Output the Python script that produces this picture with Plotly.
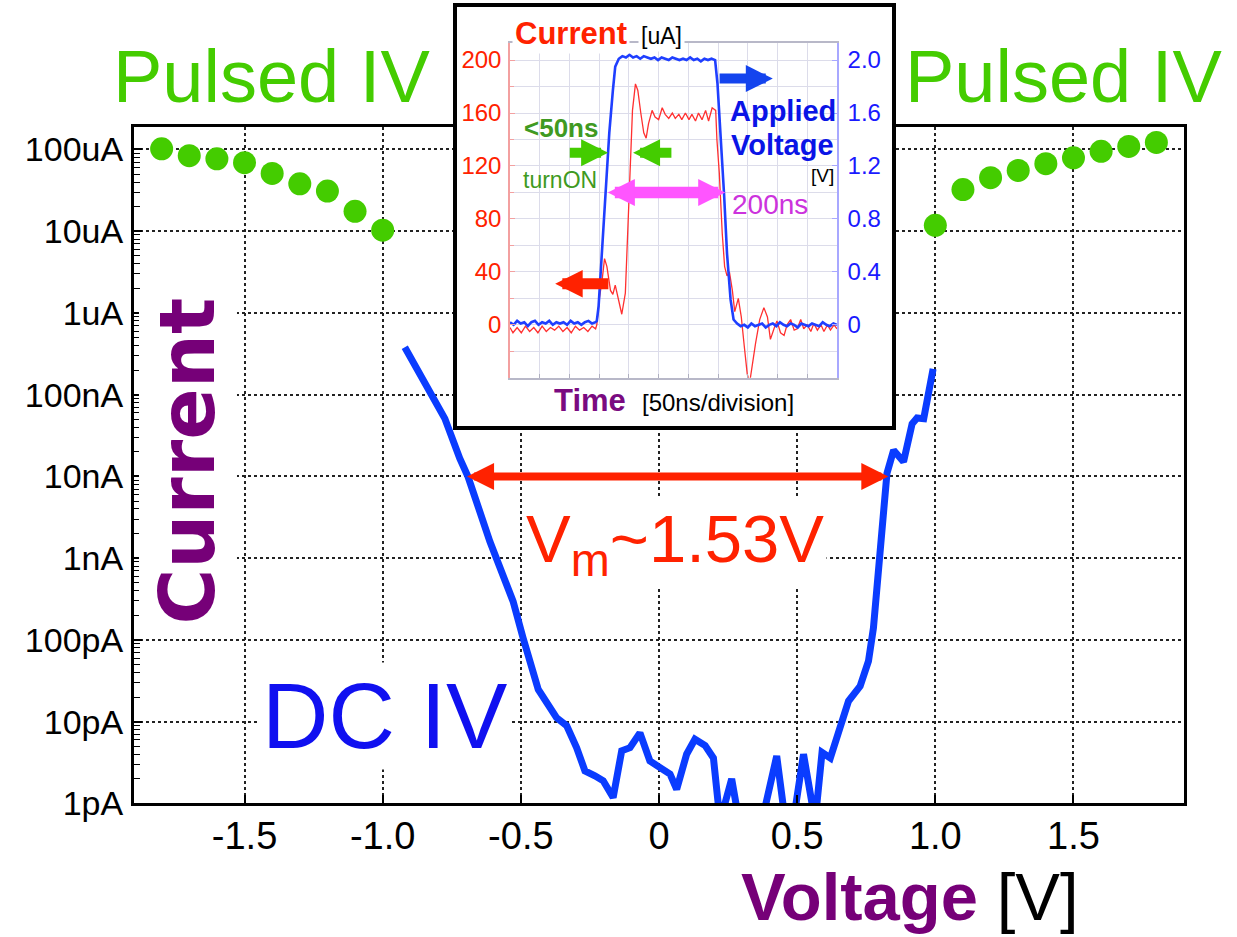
import plotly.graph_objects as go

W, H = 1237, 937          # reference frame used for placing elements
FIG_H = 953               # rendered figure height
FONT = "Liberation Sans, Arial, sans-serif"
WIDE = "DejaVu Sans, Verdana, sans-serif"


def px(x):
    return x / W


def py(y):
    return 1 - y / H


# ---------------- main chart data ----------------
# pulsed IV measurements (green dots)
pulse_neg_v = [-1.8, -1.7, -1.6, -1.5, -1.4, -1.3, -1.2, -1.1, -1.0]
pulse_neg_i = [1.02e-4, 8.4e-5, 7.7e-5, 6.9e-5, 5.1e-5, 3.8e-5, 3.1e-5, 1.75e-5, 1.03e-5]
pulse_pos_v = [1.0, 1.1, 1.2, 1.3, 1.4, 1.5, 1.6, 1.7, 1.8]
pulse_pos_i = [1.18e-5, 3.23e-5, 4.52e-5, 5.55e-5, 6.7e-5, 7.9e-5, 9.5e-5, 1.09e-4, 1.22e-4]

# DC IV sweep (blue line)
dc_v = [-0.920, -0.842, -0.775, -0.721, -0.691, -0.612, -0.528, -0.492, -0.437, -0.371,
        -0.334, -0.298, -0.268, -0.232, -0.202, -0.166, -0.135, -0.105, -0.069, -0.033,
        0.040, 0.064, 0.100, 0.130, 0.167, 0.197, 0.221, 0.263, 0.290, 0.340,
        0.384, 0.426, 0.457, 0.486, 0.523, 0.565, 0.590, 0.620, 0.656, 0.686,
        0.728, 0.758, 0.776, 0.795, 0.810, 0.825, 0.849, 0.885, 0.916, 0.934,
        0.958, 0.976, 0.992]
dc_i = [3.8e-7, 1.30e-7, 5.1e-8, 1.66e-8, 9.9e-9, 1.60e-9, 2.96e-10, 1.06e-10, 2.48e-11, 1.12e-11,
        8.9e-12, 4.8e-12, 2.5e-12, 2.18e-12, 1.89e-12, 1.18e-12, 4.4e-12, 4.8e-12, 7.3e-12, 3.3e-12,
        2.28e-12, 1.49e-12, 4.0e-12, 6.1e-12, 5.1e-12, 3.6e-12, 6e-13, 2.0e-12, 6e-13, 4e-13,
        9e-13, 3.8e-12, 6e-13, 6e-13, 4.0e-12, 6e-13, 4.2e-12, 3.6e-12, 9.3e-12, 1.79e-11,
        2.72e-11, 5.5e-11, 1.40e-10, 7.6e-10, 4.1e-9, 1.09e-8, 2.09e-8, 1.51e-8, 4.4e-8, 5.2e-8,
        5.1e-8, 9.8e-8, 2.07e-7]

x_tick_vals = [-1.5, -1.0, -0.5, 0, 0.5, 1.0, 1.5]
x_tick_text = ["-1.5", "-1.0", "-0.5", "0", "0.5", "1.0", "1.5"]
y_tick_vals = [1e-12, 1e-11, 1e-10, 1e-9, 1e-8, 1e-7, 1e-6, 1e-5, 1e-4]
y_tick_text = ["1pA", "10pA", "100pA", "1nA", "10nA", "100nA", "1uA", "10uA", "100uA"]

# memory window marked on the DC curve
VM_LEFT = -0.70
VM_SPAN = 1.53

# ---------------- inset data (pulse waveform) ----------------
cur_t = [0, 5, 12, 19, 26, 33, 40, 47, 54, 61, 68, 75, 82, 89, 96, 103, 110, 117, 124, 131, 138, 144,
         146, 150, 155, 159, 163, 169, 173, 177, 183, 188,
         194, 198, 202, 206, 211, 215, 220, 225, 229, 233,
         239, 244, 250, 256, 261, 267, 273, 278, 284, 289,
         295, 301, 306, 312, 317, 323, 329, 334, 340, 346,
         348, 352, 357, 361, 365, 369, 374, 378, 384, 389,
         394, 399, 403, 407, 413, 420, 427, 433, 438, 444,
         449, 455, 461, 466, 472, 478, 483, 489, 494, 500,
         506, 511, 517, 523, 528, 534, 539, 545, 550]
cur_ua = [-2, -6, -2, -6, -1, -5, -2, -6, -1, -5, -2, -4, -1, -5, -2, -6, -1, -4, -2, -5, -1, -3,
          0, 19, 34, 50, 44, 26, 23, 30, 18, 8,
          24, 69, 125, 162, 182, 177, 160, 145, 141, 152,
          162, 157, 155, 164, 159, 156, 160, 156, 159, 155,
          160, 155, 159, 154, 160, 155, 162, 154, 164, 162,
          140, 115, 69, 44, 37, 40, 26, 10, 20, 6,
          -16, -37, -44, -31, -14, 4, 13, 6, -11, -3,
          3, -6, -8, 0, 4, -4, -3, 4, -3, 0,
          -5, 1, -4, 0, -5, 0, -4, 0, -3]

volt_t = [0, 6, 12, 18, 24, 30, 36, 42, 48, 54, 60, 66, 72, 78, 84, 90, 96, 102, 108, 114,
          120, 126, 132, 138, 144,
          146, 149, 153, 158, 163, 167, 173, 177,
          183, 189, 195, 201, 207, 213, 219, 225, 231, 237, 243, 249, 255, 261, 267, 273,
          279, 285, 291, 297, 303, 309, 315, 321, 327, 333, 339, 345,
          349, 354, 360, 365, 371, 376,
          382, 388, 394, 400, 406, 412, 418, 424, 430, 436, 442, 448, 454, 460, 466, 472,
          478, 484, 490, 496, 502, 508, 514, 520, 526, 532, 538, 544, 550]
volt_v = [0.02, 0.00, 0.03, 0.01, 0.02, -0.01, 0.02, 0.03, 0.00, 0.02, 0.01, 0.03, 0.00, 0.02,
          0.01, 0.02, 0.00, 0.03, 0.01, 0.02, 0.00, 0.02, 0.03, 0.01, 0.02,
          0.03, 0.14, 0.44, 0.82, 1.14, 1.45, 1.77, 1.95,
          2.01, 2.03, 2.02, 2.04, 2.02, 2.03, 2.01, 2.03, 2.02, 2.01, 2.02, 2.00, 2.02, 2.01,
          2.00, 2.02, 2.01, 2.00, 2.01, 2.00, 2.02, 2.00, 2.01, 1.99, 2.01, 2.00, 2.01, 2.00,
          1.82, 1.45, 0.99, 0.54, 0.19, 0.04,
          0.01, -0.01, 0.00, -0.02, 0.01, -0.01, 0.00, 0.01, -0.02, 0.00, 0.01, -0.01, 0.02,
          0.00, -0.01, 0.01, 0.00, -0.02, 0.01, 0.00, -0.01, 0.01, 0.00, -0.01, 0.02, 0.00,
          -0.01, 0.01, 0.00]

inset_t_ticks = [0, 50, 100, 150, 200, 250, 300, 350, 400, 450, 500, 550]
inset_i_ticks = [0, 40, 80, 120, 160, 200]
inset_i_text = ["0", "40", "80", "120", "160", "200"]
inset_v_ticks = [0, 0.4, 0.8, 1.2, 1.6, 2.0]
inset_v_text = ["0", "0.4", "0.8", "1.2", "1.6", "2.0"]

GREEN = "#44cc00"
RED = "#ff2200"
PURPLE = "#760078"

fig = go.Figure()

# main plot
fig.add_trace(go.Scatter(x=dc_v, y=dc_i, mode="lines", line=dict(color="#0a3cff", width=7),
                         xaxis="x", yaxis="y", hoverinfo="skip"))
fig.add_trace(go.Scatter(x=pulse_neg_v, y=pulse_neg_i, mode="markers",
                         marker=dict(size=23, color=GREEN, line=dict(width=0)),
                         xaxis="x", yaxis="y"))
fig.add_trace(go.Scatter(x=pulse_pos_v, y=pulse_pos_i, mode="markers",
                         marker=dict(size=23, color=GREEN, line=dict(width=0)),
                         xaxis="x", yaxis="y"))

# white framed panel holding the inset
fig.add_trace(go.Scatter(x=[None], y=[None], xaxis="x2", yaxis="y2", hoverinfo="skip"))

# inset waveforms
fig.add_trace(go.Scatter(x=cur_t, y=cur_ua, mode="lines", line=dict(color="#ff3030", width=1.3),
                         xaxis="x3", yaxis="y3", hoverinfo="skip"))
fig.add_trace(go.Scatter(x=volt_t, y=volt_v, mode="lines", line=dict(color="#1f3fff", width=2.6),
                         xaxis="x3", yaxis="y4", hoverinfo="skip"))

grid_main = dict(showgrid=True, gridcolor="#222222", griddash="dot", gridwidth=1.5, zeroline=False)
inset_grid = "#dcdcea"

fig.update_layout(
    width=W, height=FIG_H, autosize=False,
    margin=dict(l=0, r=0, t=0, b=0),
    paper_bgcolor="white", plot_bgcolor="white",
    showlegend=False,
    font=dict(family=FONT, color="black"),
    xaxis=dict(domain=[px(134), px(1184)], range=[-1.9, 1.9], anchor="y",
               tickmode="array", tickvals=x_tick_vals, ticktext=x_tick_text,
               tickfont=dict(size=38, family=FONT, color="black"),
               ticks="inside", ticklen=8, tickwidth=2, tickcolor="black",
               showline=True, linewidth=3, linecolor="black", mirror=True,
               ticklabelstandoff=-3, **grid_main),
    yaxis=dict(type="log", domain=[py(806), py(127)], range=[-12, -3.72], anchor="x",
               tickmode="array", tickvals=y_tick_vals, ticktext=y_tick_text,
               tickfont=dict(size=34, family=FONT, color="black"),
               ticks="inside", ticklen=8, tickwidth=2, tickcolor="black",
               minor=dict(ticks="inside", ticklen=6, tickwidth=1.2, tickcolor="black",
                          dtick="D1", showgrid=False),
               showline=True, linewidth=3, linecolor="black", mirror=True,
               ticklabelstandoff=1, **grid_main),
    xaxis2=dict(domain=[px(457), px(892)], range=[0, 1], anchor="y2",
                showline=True, linewidth=3.5, linecolor="black", mirror=True,
                showgrid=False, zeroline=False, showticklabels=False, ticks=""),
    yaxis2=dict(domain=[py(427), py(7)], range=[0, 1], anchor="x2",
                showline=True, linewidth=3.5, linecolor="black", mirror=True,
                showgrid=False, zeroline=False, showticklabels=False, ticks=""),
    xaxis3=dict(domain=[px(510), px(837)], range=[0, 550], anchor="y3",
                tickmode="array", tickvals=inset_t_ticks, showticklabels=False,
                ticks="inside", ticklen=4, tickcolor="#b0b0c0",
                showgrid=True, gridcolor=inset_grid, gridwidth=1, zeroline=False,
                showline=True, linecolor="#b8b8c8", linewidth=1.5, mirror=True),
    yaxis3=dict(domain=[py(379), py(43)], range=[-40, 213], anchor="x3",
                tickmode="array", tickvals=inset_i_ticks, ticktext=inset_i_text,
                tickfont=dict(size=24, family=FONT, color=RED),
                ticks="inside", ticklen=5, tickcolor="#f3a0a0",
                showgrid=True, gridcolor=inset_grid, gridwidth=1, zeroline=False,
                minor=dict(dtick=20, tick0=0, showgrid=True, gridcolor=inset_grid,
                           ticks="inside", ticklen=4, tickcolor="#f3a0a0"),
                showline=True, linecolor="#f3a0a0", linewidth=1.5, ticklabelstandoff=2),
    yaxis4=dict(overlaying="y3", side="right", anchor="x3", range=[-0.4, 2.13],
                tickmode="array", tickvals=inset_v_ticks, ticktext=inset_v_text,
                tickfont=dict(size=24, family=FONT, color="#1a1aff"),
                ticks="inside", ticklen=5, tickcolor="#a8a8ff",
                showgrid=False, zeroline=False,
                showline=True, linecolor="#a8a8ff", linewidth=1.5, ticklabelstandoff=4),
)


def label(text, x, y, size, color, family=FONT, **kw):
    return dict(xref="paper", yref="paper", x=px(x), y=py(y), text=text, showarrow=False,
                font=dict(size=size, color=color, family=family),
                xanchor="center", yanchor="middle", **kw)


def arrow(x_tip, y_tip, x_tail, y_tail, xref, yref, color, width, size, both=False):
    a = dict(x=x_tip, y=y_tip, ax=x_tail, ay=y_tail, xref=xref, yref=yref,
             axref=xref, ayref=yref, text="", showarrow=True,
             arrowhead=2, arrowsize=size, arrowwidth=width, arrowcolor=color,
             standoff=0, startstandoff=0)
    if both:
        a.update(arrowside="end+start", startarrowhead=2, startarrowsize=size)
    return a


annotations = [
    # main chart labels
    label("Pulsed IV", 271, 77, 74, GREEN),
    label("Pulsed IV", 1063, 77, 74, GREEN),
    label("<b>Current</b>", 188, 463, 76, PURPLE, family=WIDE, textangle=-90,
          bgcolor="white", borderpad=4),
    label("DC IV", 384, 718, 92, "#1010f0", bgcolor="white", borderpad=2),
    label("V<sub>m</sub>~1.53V", 675, 545, 67, RED, bgcolor="white", borderpad=2),
    label("<b>Voltage</b> <span style='color:black'>[V]</span>", 910, 899, 67, PURPLE,
          borderpad=0),
    arrow(VM_LEFT + VM_SPAN, -8, VM_LEFT, -8, "x", "y", RED, 8, 0.675, both=True),

    # inset labels
    label("<b>Current</b>", 571, 34, 31, RED, bgcolor="white", borderpad=2),
    label("[uA]", 661, 36, 23, "black", bgcolor="white", borderpad=2),
    label("<b>&lt;50ns</b>", 561, 128, 26, "#3f9a22"),
    label("turnON", 560, 181, 23, "#3f9a22"),
    label("<b>Applied</b>", 783, 111, 29, "#0a14e6"),
    label("<b>Voltage</b>", 782, 145, 29, "#0a14e6"),
    label("[V]", 822, 176, 19, "black"),
    label("200ns", 770, 205, 28, "#cc33dd"),
    label("<b>Time</b>", 590, 402, 31, "#7a0a80"),
    label("[50ns/division]", 718, 404, 24, "black"),

    # inset arrows
    arrow(362, 100, 162, 100, "x3", "y3", "#ff55ff", 11.5, 0.47, both=True),
    arrow(165, 130, 98, 130, "x3", "y3", GREEN, 10, 0.54),
    arrow(207, 130, 274, 130, "x3", "y3", GREEN, 10, 0.54),
    arrow(442, 186, 350, 186, "x3", "y3", "#1444ee", 10, 0.54),
    arrow(76, 31, 168, 31, "x3", "y3", RED, 11, 0.5),
]
fig.update_layout(annotations=annotations)

fig.write_html(
    "out.html",
    config={"displayModeBar": False},
    post_script="document.body.style.margin='0';"
                "document.documentElement.style.overflow='hidden';"
                "document.body.style.overflow='hidden';",
)
